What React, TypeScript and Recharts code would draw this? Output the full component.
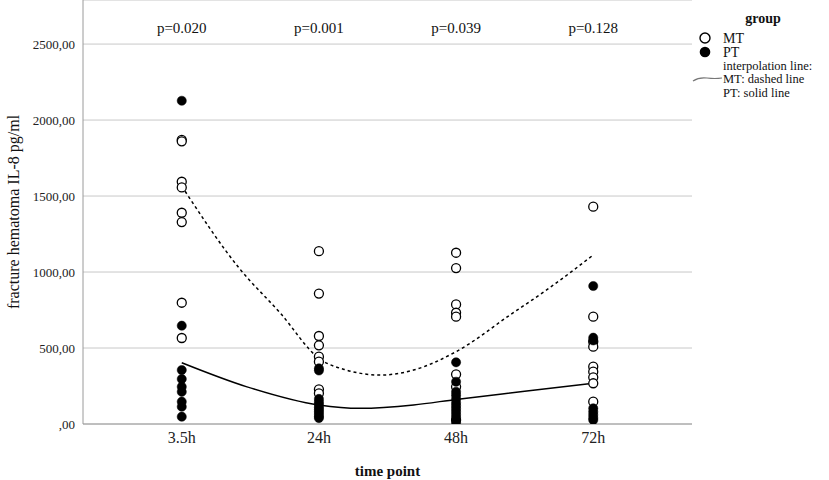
import { ComposedChart, Scatter, Line, XAxis, YAxis, CartesianGrid } from "recharts"

const timePoints = ["3.5h", "24h", "48h", "72h"]
const pValues = ["p=0.020", "p=0.001", "p=0.039", "p=0.128"]
const yTicks = [0, 500, 1000, 1500, 2000, 2500]

const mtValues = [
  [1870, 1860, 1594, 1557, 1390, 1329, 798, 566],
  [1137, 858, 579, 518, 443, 410, 228, 202],
  [1127, 1026, 787, 732, 706, 327, 245, 26],
  [1430, 706, 541, 509, 377, 344, 307, 268, 147],
]
const ptValues = [
  [2127, 647, 355, 296, 245, 212, 147, 114, 48],
  [366, 352, 165, 145, 128, 110, 95, 80, 65, 50, 39],
  [406, 278, 212, 190, 165, 140, 120, 100, 80, 60, 40, 8],
  [908, 568, 550, 103, 80, 60, 40, 26],
]

// interpolation lines
const mtFitX = [0, 0.42, 0.72, 1, 1.2, 1.45, 1.69, 2, 2.41, 2.66, 3]
const mtFitY = [1565, 1024, 728, 432, 355, 322, 355, 476, 728, 882, 1112]
const ptFitX = [0, 0.47, 1, 1.3, 1.69, 2, 2.5, 3]
const ptFitY = [403, 246, 125, 103, 125, 162, 215, 268]

const SERIF = "'Liberation Serif', 'Times New Roman', serif"

const toPoints = (groups: number[][]) =>
  groups.flatMap((vals, i) => vals.map(v => ({ x: i, y: v })))

const mtPoints = toPoints(mtValues)
const ptPoints = toPoints(ptValues)
const mtFit = mtFitX.map((x, i) => ({ x, y: mtFitY[i] }))
const ptFit = ptFitX.map((x, i) => ({ x, y: ptFitY[i] }))
const pRows = pValues.map((label, i) => ({ x: i, y: 2605, label }))

const OpenDot = (props: any) => (
  <circle cx={props.cx} cy={props.cy} r={4.5} fill="#fff" stroke="#000" strokeWidth={1.3} />
)
const FilledDot = (props: any) => (
  <circle cx={props.cx} cy={props.cy} r={4.6} fill="#000" stroke="#000" strokeWidth={0.5} />
)
const PText = (props: any) => (
  <text
    x={props.cx}
    y={props.cy}
    textAnchor="middle"
    dominantBaseline="central"
    fontFamily={SERIF}
    fontSize={15}
    fill="#111"
  >
    {props.payload?.label ?? ""}
  </text>
)

const YLabel = (props: any) => {
  const vb = props.viewBox || {}
  const cy = vb.y != null ? vb.y + vb.height / 2 : 212
  return (
    <text
      x={13}
      y={cy}
      transform={`rotate(-90, 13, ${cy})`}
      textAnchor="middle"
      dominantBaseline="central"
      fontFamily={SERIF}
      fontSize={16}
      fill="#111"
    >
      fracture hematoma IL-8 pg/ml
    </text>
  )
}

function GroupLegend() {
  return (
    <svg width={149} height={110} style={{ position: "absolute", left: 680, top: 0 }}>
      <text x={83} y={18} textAnchor="middle" dominantBaseline="central" fontFamily={SERIF} fontSize={14} fontWeight="bold" fill="#111">
        group
      </text>
      <circle cx={25} cy={38} r={5} fill="#fff" stroke="#000" strokeWidth={1.4} />
      <text x={43} y={38} dominantBaseline="central" fontFamily={SERIF} fontSize={14} fill="#111">MT</text>
      <circle cx={25} cy={52} r={5.3} fill="#000" />
      <text x={43} y={52} dominantBaseline="central" fontFamily={SERIF} fontSize={14} fill="#111">PT</text>
      <text x={43} y={65.5} dominantBaseline="central" fontFamily={SERIF} fontSize={12.5} fill="#111">interpolation line:</text>
      <path d="M13,81 Q19,77 27,78 T42,78" fill="none" stroke="#777" strokeWidth={1.2} />
      <text x={43} y={79} dominantBaseline="central" fontFamily={SERIF} fontSize={12.5} fill="#111">MT: dashed line</text>
      <text x={43} y={92.5} dominantBaseline="central" fontFamily={SERIF} fontSize={12.5} fill="#111">PT: solid line</text>
    </svg>
  )
}

export default function App() {
  return (
    <div style={{ position: "absolute", left: 0, top: 0, width: 829, height: 480, background: "#fff" }}>
      <ComposedChart width={829} height={480} margin={{ top: 0, right: 137, bottom: 0, left: 0 }}>
        <CartesianGrid vertical={false} stroke="#c8c8c8" />
        <XAxis
          type="number"
          dataKey="x"
          domain={[-0.72, 3.72]}
          ticks={[0, 1, 2, 3]}
          tickFormatter={(i: number) => timePoints[i] ?? ""}
          height={56}
          tickLine={false}
          axisLine={{ stroke: "#9a9a9a" }}
          tick={{ fontSize: 16, fill: "#222", fontFamily: SERIF }}
          allowDataOverflow
          label={{
            value: "time point",
            position: "insideBottom",
            offset: 4,
            style: { fontFamily: SERIF, fontSize: 15, fontWeight: "bold", fill: "#111" },
          }}
        />
        <YAxis
          type="number"
          dataKey="y"
          domain={[0, 2790]}
          ticks={yTicks}
          width={83}
          tickLine={false}
          axisLine={{ stroke: "#9a9a9a" }}
          tick={{ fontSize: 13, fill: "#222", fontFamily: SERIF }}
          tickFormatter={(v: number) => (v === 0 ? ",00" : `${v},00`)}
          allowDataOverflow
          label={{ content: YLabel }}
        />
        <Line data={mtFit} dataKey="y" type="monotone" stroke="#000" strokeWidth={1.5} strokeDasharray="3 3" dot={false} isAnimationActive={false} />
        <Line data={ptFit} dataKey="y" type="monotone" stroke="#000" strokeWidth={1.5} dot={false} isAnimationActive={false} />
        <Scatter data={mtPoints} shape={OpenDot} isAnimationActive={false} />
        <Scatter data={ptPoints} shape={FilledDot} isAnimationActive={false} />
        <Scatter data={pRows} shape={PText} isAnimationActive={false} />
      </ComposedChart>
      <GroupLegend />
    </div>
  )
}
